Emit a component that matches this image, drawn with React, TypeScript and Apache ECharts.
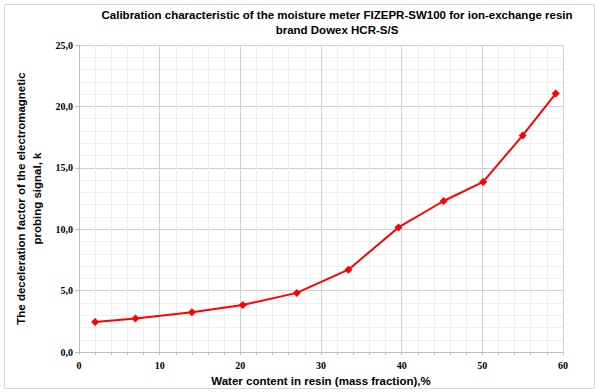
import React, { useEffect, useRef } from "react";
import * as echarts from "echarts";

const waterContent = [2.0, 7.0, 14.0, 20.3, 27.0, 33.4, 39.6, 45.2, 50.1, 55.0, 59.1];
const decelerationK = [2.46, 2.73, 3.25, 3.84, 4.82, 6.71, 10.15, 12.3, 13.85, 17.64, 21.05];
const titleLines = [
  "Calibration characteristic of the moisture meter FIZEPR-SW100 for ion-exchange resin",
  "brand Dowex HCR-S/S",
];
const xAxisName = "Water content in resin (mass fraction),%";
const yAxisName = "The deceleration factor of the electromagnetic\nprobing signal, k";

export default function App() {
  const ref = useRef<HTMLDivElement>(null);
  useEffect(() => {
    if (!ref.current) return;
    const chart = echarts.init(ref.current, undefined, { renderer: "svg" });
    const tickFont = {
      fontFamily: "serif",
      fontWeight: "bold" as const,
      fontSize: 10,
      color: "#000",
    };
    chart.setOption({
      animation: false,
      backgroundColor: "#fff",
      title: {
        text: titleLines.join("\n"),
        left: 332,
        top: 2,
        textAlign: "center",
        textStyle: {
          fontFamily: "'Liberation Sans', Arial, sans-serif",
          fontWeight: "bold",
          fontSize: 11.5,
          lineHeight: 15,
          color: "#000",
        },
      },
      graphic: [
        {
          type: "rect",
          shape: { x: 4.5, y: 4.5, width: 590, height: 384 },
          style: { fill: "none", stroke: "#d9d9d9", lineWidth: 1 },
          silent: true,
          z: -1,
        },
      ],
      grid: { left: 79, right: 37, top: 45, bottom: 39 },
      xAxis: {
        type: "value",
        min: 0,
        max: 60,
        interval: 10,
        name: xAxisName,
        nameLocation: "middle",
        nameGap: 20,
        nameTextStyle: {
          fontFamily: "'Liberation Sans', Arial, sans-serif",
          fontWeight: "bold",
          fontSize: 11.5,
          color: "#000",
        },
        axisLine: { show: true, lineStyle: { color: "#bfbfbf", width: 1 } },
        axisTick: { show: true, length: 3, lineStyle: { color: "#bfbfbf" } },
        minorTick: { show: true, splitNumber: 5, length: 3, lineStyle: { color: "#bfbfbf" } },
        axisLabel: { ...tickFont, margin: 8 },
        splitLine: { show: true, lineStyle: { color: "#d0d0d0", width: 1 } },
        minorSplitLine: { show: true, lineStyle: { color: "#eeeeee", width: 1 } },
      },
      yAxis: {
        type: "value",
        min: 0,
        max: 25,
        interval: 5,
        name: yAxisName,
        nameLocation: "middle",
        nameRotate: 90,
        nameGap: 28,
        nameTextStyle: {
          fontFamily: "'Liberation Sans', Arial, sans-serif",
          fontWeight: "bold",
          fontSize: 11.5,
          lineHeight: 16,
          color: "#000",
        },
        axisLine: { show: true, lineStyle: { color: "#bfbfbf", width: 1 } },
        axisTick: { show: true, length: 4, lineStyle: { color: "#bfbfbf" } },
        minorTick: { show: false },
        axisLabel: {
          ...tickFont,
          margin: 6,
          formatter: (v: number) => v.toFixed(1).replace(".", ","),
        },
        splitLine: { show: true, lineStyle: { color: "#d0d0d0", width: 1 } },
        minorSplitLine: { show: true, lineStyle: { color: "#eeeeee", width: 1 } },
      },
      series: [
        {
          type: "line",
          data: waterContent.map((x, i) => [x, decelerationK[i]]),
          lineStyle: { color: "#ff0000", width: 2 },
          itemStyle: { color: "#ff0000" },
          symbol: "diamond",
          symbolSize: 8,
          showSymbol: true,
        },
      ],
    });
    return () => chart.dispose();
  }, []);
  return <div ref={ref} style={{ width: 600, height: 392, position: "absolute", left: 0, top: 0 }} />;
}
